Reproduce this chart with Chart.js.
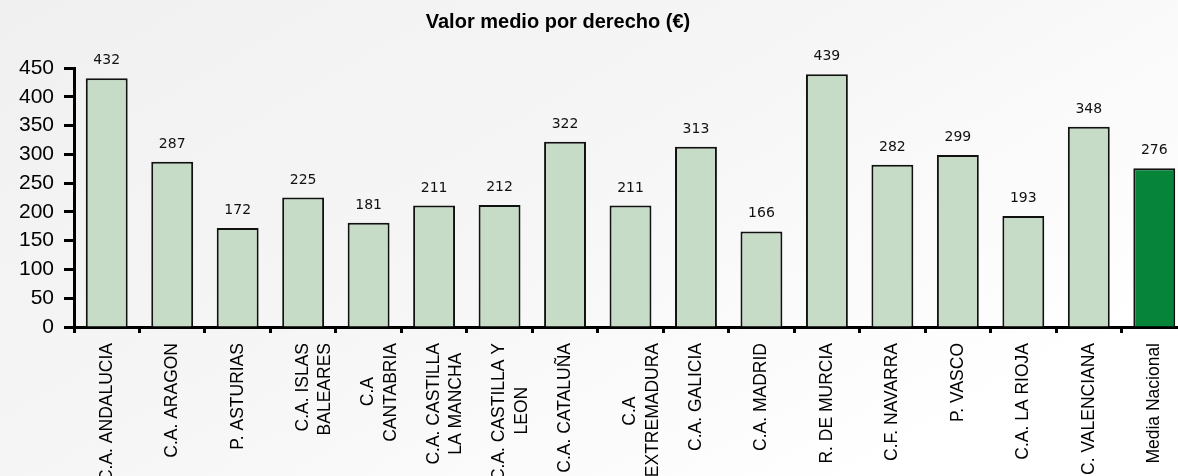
<!DOCTYPE html>
<html>
<head>
<meta charset="utf-8">
<script src="https://cdn.jsdelivr.net/npm/chart.js@4.4.0/dist/chart.umd.min.js"></script>
<style>
  html, body { margin: 0; padding: 0; width: 1178px; height: 476px; overflow: hidden; }
  body { background: linear-gradient(150deg, #f0f0f0 0%, #f6f6f6 45%, #ffffff 85%); }
  #wrap { position: relative; width: 1187px; height: 476px; }
</style>
</head>
<body>
<div id="wrap"><canvas id="chart" width="1187" height="476"></canvas></div>
<script>
const titulo = 'Valor medio por derecho (€)';

const comunidades = [
  'C.A. ANDALUCIA',
  'C.A. ARAGON',
  'P. ASTURIAS',
  ['C.A. ISLAS', 'BALEARES'],
  ['C.A', 'CANTABRIA'],
  ['C.A. CASTILLA', 'LA MANCHA'],
  ['C.A. CASTILLA Y', 'LEON'],
  'C.A. CATALUÑA',
  ['C.A', 'EXTREMADURA'],
  'C.A. GALICIA',
  'C.A. MADRID',
  'R. DE MURCIA',
  'C.F. NAVARRA',
  'P. VASCO',
  'C.A. LA RIOJA',
  'C. VALENCIANA',
  'Media Nacional'
];

const valores = [432, 287, 172, 225, 181, 211, 212, 322, 211, 313, 166, 439, 282, 299, 193, 348, 276];

const colorBarra = '#c6dcc6';
const colorMedia = '#06843a';
const colores = comunidades.map((c, i) => i === comunidades.length - 1 ? colorMedia : colorBarra);

const fuenteEje = '"Liberation Sans", Arial, sans-serif';
const tamEje = 17.5;

// centra las lineas cortas de las etiquetas de varias lineas (como en el original)
const medidor = document.createElement('canvas').getContext('2d');
medidor.font = tamEje + 'px ' + fuenteEje;
function centrarLineas(lab) {
  if (!Array.isArray(lab)) return lab;
  const anchos = lab.map(l => medidor.measureText(l).width);
  const max = Math.max(...anchos);
  const esp = medidor.measureText(' ').width;
  return lab.map((l, i) => l + ' '.repeat(Math.round((max - anchos[i]) / 2 / esp)));
}

// titulo centrado sobre el grafico original
const tituloPlugin = {
  id: 'titulo',
  afterDraw(chart) {
    const ctx = chart.ctx;
    ctx.save();
    ctx.font = 'bold 20px "Liberation Sans", Arial, sans-serif';
    ctx.fillStyle = '#000';
    ctx.textAlign = 'center';
    ctx.textBaseline = 'middle';
    ctx.fillText(titulo, 558, 22);
    ctx.restore();
  }
};

// etiquetas de valor encima de cada barra
const etiquetasPlugin = {
  id: 'etiquetas',
  afterDatasetsDraw(chart) {
    const ctx = chart.ctx;
    const meta = chart.getDatasetMeta(0);
    ctx.save();
    ctx.font = '14px "DejaVu Sans", sans-serif';
    ctx.fillStyle = '#111';
    ctx.textAlign = 'center';
    ctx.textBaseline = 'alphabetic';
    meta.data.forEach((bar, i) => {
      ctx.fillText(valores[i], bar.x, bar.y - 14);
    });
    ctx.restore();
  }
};

new Chart(document.getElementById('chart'), {
  type: 'bar',
  data: {
    labels: comunidades,
    datasets: [{
      data: valores,
      backgroundColor: colores,
      borderColor: '#111',
      borderWidth: 2,
      barPercentage: 0.64,
      categoryPercentage: 1
    }]
  },
  options: {
    responsive: false,
    animation: false,
    layout: { padding: { top: 68 } },
    plugins: {
      legend: { display: false },
      tooltip: { enabled: false }
    },
    scales: {
      x: {
        ticks: {
          color: '#000',
          font: { family: fuenteEje, size: tamEje, lineHeight: 1.27 },
          minRotation: 90,
          maxRotation: 90,
          autoSkip: false,
          padding: 10,
          callback: (v, i) => centrarLineas(comunidades[i])
        },
        grid: { offset: true, drawOnChartArea: false, tickLength: 6, tickColor: '#000', tickWidth: 3 },
        border: { color: '#000', width: 3 },
        afterFit(scale) { scale.height = 149; }
      },
      y: {
        min: 0,
        max: 450,
        ticks: {
          stepSize: 50,
          color: '#000',
          font: { family: fuenteEje, size: 21 },
          padding: 10
        },
        grid: { drawOnChartArea: false, tickLength: 10, tickColor: '#000', tickWidth: 3 },
        border: { color: '#000', width: 3 },
        afterFit(scale) { scale.width = 74; }
      }
    }
  },
  plugins: [tituloPlugin, etiquetasPlugin]
});
</script>
</body>
</html>
